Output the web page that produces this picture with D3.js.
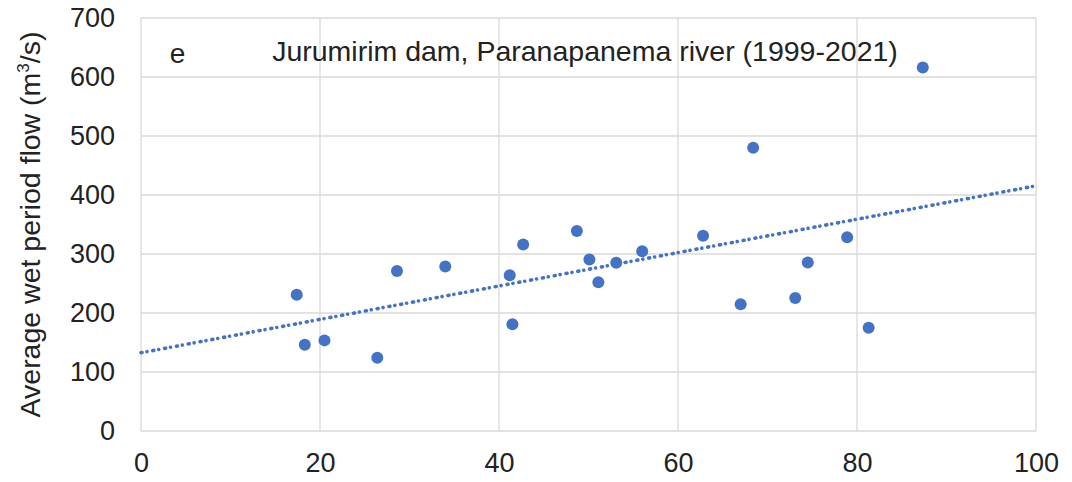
<!DOCTYPE html>
<html>
<head>
<meta charset="utf-8">
<script src="https://cdn.jsdelivr.net/npm/d3@7"></script>
<style>
  html, body { margin: 0; padding: 0; background: #fff; }
  text { font-family: "Liberation Sans", Arial, sans-serif; fill: #222; }
</style>
</head>
<body>
<svg id="chart" width="1072" height="482"></svg>
<script>
// Wet-period share (x) vs average wet period flow (y), one point per year
const xValues = [17.4, 18.3, 20.5, 26.4, 28.6, 34.0, 41.2, 41.5, 42.7, 48.7, 50.1,
                 51.1, 53.1, 56.0, 62.8, 67.0, 68.4, 73.1, 74.5, 78.9, 81.3, 87.35];
const yValues = [231, 146, 153.6, 124, 271, 279, 264, 181, 316, 339, 290.7,
                 252, 285, 304.8, 331, 215, 480, 225.5, 285.6, 328.5, 175, 616];
const xTicks = [0, 20, 40, 60, 80, 100];
const yTicks = [0, 100, 200, 300, 400, 500, 600, 700];
const panelLetter = "e";
const titleText = "Jurumirim dam, Paranapanema river (1999-2021)";

const svg = d3.select("#chart");
const margin = { left: 141, right: 36, top: 18, bottom: 51 };
const W = 1072, H = 482;

const x = d3.scaleLinear().domain([0, 100]).range([margin.left, W - margin.right]);
const y = d3.scaleLinear().domain([0, 700]).range([H - margin.bottom, margin.top]);

const color = "#4472C4";
const gridColor = "#d9d9d9";

// Gridlines
svg.append("g").selectAll("line").data(yTicks).join("line")
  .attr("x1", x(0)).attr("x2", x(100))
  .attr("y1", d => y(d)).attr("y2", d => y(d))
  .attr("stroke", gridColor).attr("stroke-width", 1.3);
svg.append("g").selectAll("line").data(xTicks).join("line")
  .attr("y1", y(0)).attr("y2", y(700))
  .attr("x1", d => x(d)).attr("x2", d => x(d))
  .attr("stroke", gridColor).attr("stroke-width", 1.3);

// Axes (labels only)
const yAxis = svg.append("g").attr("transform", `translate(${x(0)},0)`)
  .call(d3.axisLeft(y).tickValues(yTicks).tickSize(0).tickPadding(26));
const xAxis = svg.append("g").attr("transform", `translate(0,${y(0)})`)
  .call(d3.axisBottom(x).tickValues(xTicks).tickSize(0).tickPadding(22));
[yAxis, xAxis].forEach(a => {
  a.select(".domain").remove();
  a.selectAll("text").attr("font-size", 27).attr("font-family", "Liberation Sans, Arial, sans-serif").attr("fill", "#222");
});

// Y-axis title
const yTitle = svg.append("text")
  .attr("transform", `translate(40,${(y(0) + y(700)) / 2}) rotate(-90)`)
  .attr("text-anchor", "middle")
  .attr("font-size", 28.5);
yTitle.append("tspan").text("Average wet period flow (m");
yTitle.append("tspan").attr("font-size", 17).attr("dy", -11).text("3");
yTitle.append("tspan").attr("dy", 11).text("/s)");

// Linear trend line (least squares)
const n = xValues.length;
const mx = d3.mean(xValues), my = d3.mean(yValues);
let sxy = 0, sxx = 0;
for (let i = 0; i < n; i++) {
  sxy += (xValues[i] - mx) * (yValues[i] - my);
  sxx += (xValues[i] - mx) ** 2;
}
const slope = sxy / sxx, intercept = my - slope * mx;
svg.append("line")
  .attr("x1", x(0)).attr("y1", y(intercept))
  .attr("x2", x(100)).attr("y2", y(intercept + slope * 100))
  .attr("stroke", color).attr("stroke-width", 3.6)
  .attr("stroke-linecap", "round")
  .attr("stroke-dasharray", "1 5 0.01 6");

// Points
svg.append("g").selectAll("circle").data(xValues.map((v, i) => [v, yValues[i]])).join("circle")
  .attr("cx", d => x(d[0])).attr("cy", d => y(d[1]))
  .attr("r", 6).attr("fill", color);

// Panel letter and title
svg.append("text").attr("x", 177.5).attr("y", 63).attr("text-anchor", "middle")
  .attr("font-size", 28).text(panelLetter);
svg.append("text").attr("x", 585).attr("y", 61).attr("text-anchor", "middle")
  .attr("font-size", 28.5).text(titleText);
</script>
</body>
</html>
